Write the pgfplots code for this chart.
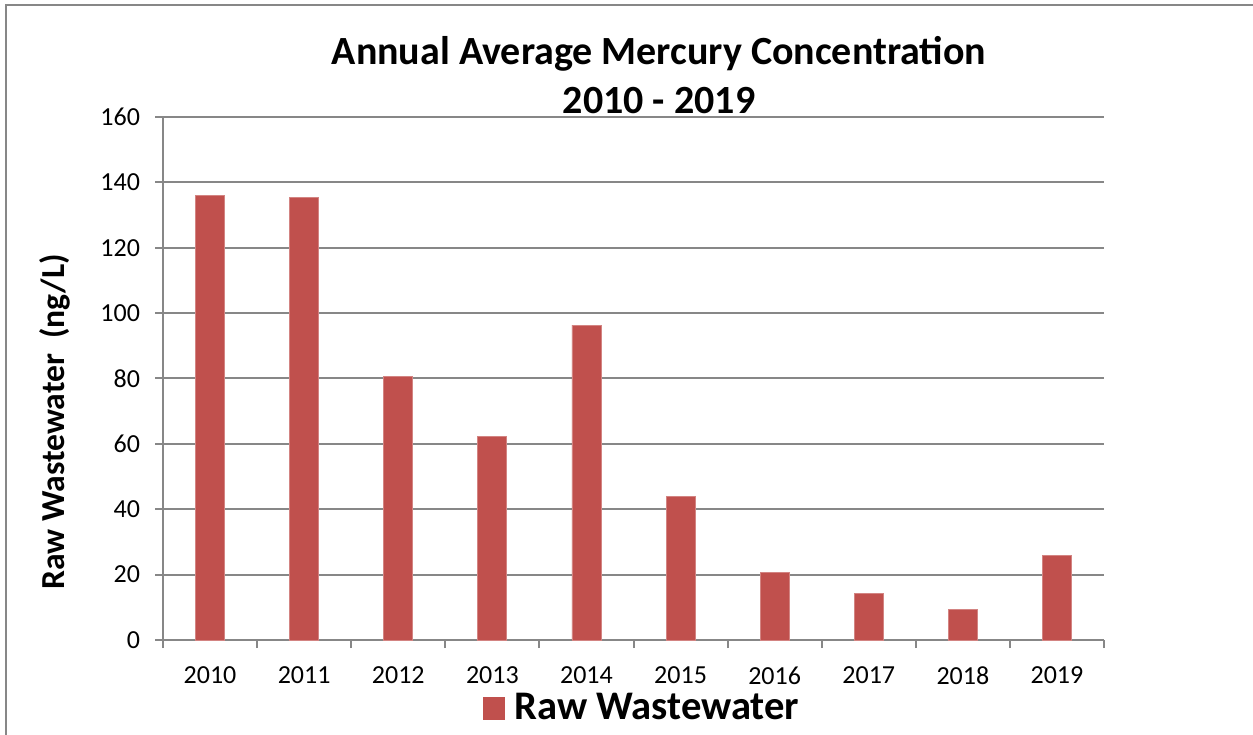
\documentclass[border=0pt]{standalone}
\usepackage{pgfplots}
\pgfplotsset{compat=1.18}
\usepackage{fontspec}
\setmainfont{Carlito}
\definecolor{barred}{HTML}{C0504D}
\definecolor{axgray}{HTML}{878787}
\begin{document}
\begin{tikzpicture}[x=0.5pt,y=0.5pt]
\useasboundingbox (0,0) rectangle (1253,734);
\draw[axgray,line width=1pt] (6,-5) -- (6,729) -- (1260,729);
\node[font=\bfseries\fontsize{20}{22}\selectfont] at (659,680) {Annual Average Mercury Concentration};
\node[font=\bfseries\fontsize{20}{22}\selectfont] at (659,633) {2010 - 2019};
\begin{axis}[
  at={(81.5pt,47pt)}, anchor=south west,
  scale only axis, width=470.5pt, height=261.5pt,
  xmin=-0.5, xmax=9.5, ymin=0, ymax=160,
  ytick={0,20,...,160},
  xtick={0,...,9},
  xticklabels={2010,2011,2012,2013,2014,2015,2016,2017,2018,2019},
  minor xtick={-0.5,0.5,...,9.5},
  major x tick style={draw=none},
  minor tick length=4pt,
  major tick length=4pt,
  tick align=outside,
  axis x line*=bottom, axis y line*=left,
  axis line style={axgray,line width=1pt},
  every tick/.style={axgray,line width=1pt},
  ymajorgrids, grid style={axgray,line width=1pt},
  ticklabel style={font=\fontsize{13}{15}\selectfont},
  /pgf/number format/assume math mode=true,
  xticklabel style={yshift=-6pt},
  yticklabel style={xshift=-4pt},
  ylabel={\bfseries Raw Wastewater\ \ (ng/L)},
  ylabel style={font=\fontsize{16.8}{18}\selectfont, at={(axis description cs:-0.1148,0.417)}, anchor=center},
  legend style={at={(axis description cs:0.510,-0.13)}, anchor=center, draw=none, fill=none,
    font=\bfseries\fontsize{20.3}{22}\selectfont},
  legend image code/.code={\fill[barred] (0pt,-5.5pt) rectangle (10.5pt,5.5pt);},
]
\addplot[ybar, bar width=14.5pt, fill=barred, draw=barred!70!white, line width=0.4pt]
  coordinates {(0,136.1) (1,135.4) (2,80.6) (3,62.4) (4,96.3) (5,44.0) (6,20.7) (7,14.3) (8,9.4) (9,25.9)};
\addlegendentry{\hspace{3pt}Raw Wastewater}
\end{axis}
\end{tikzpicture}
\end{document}
